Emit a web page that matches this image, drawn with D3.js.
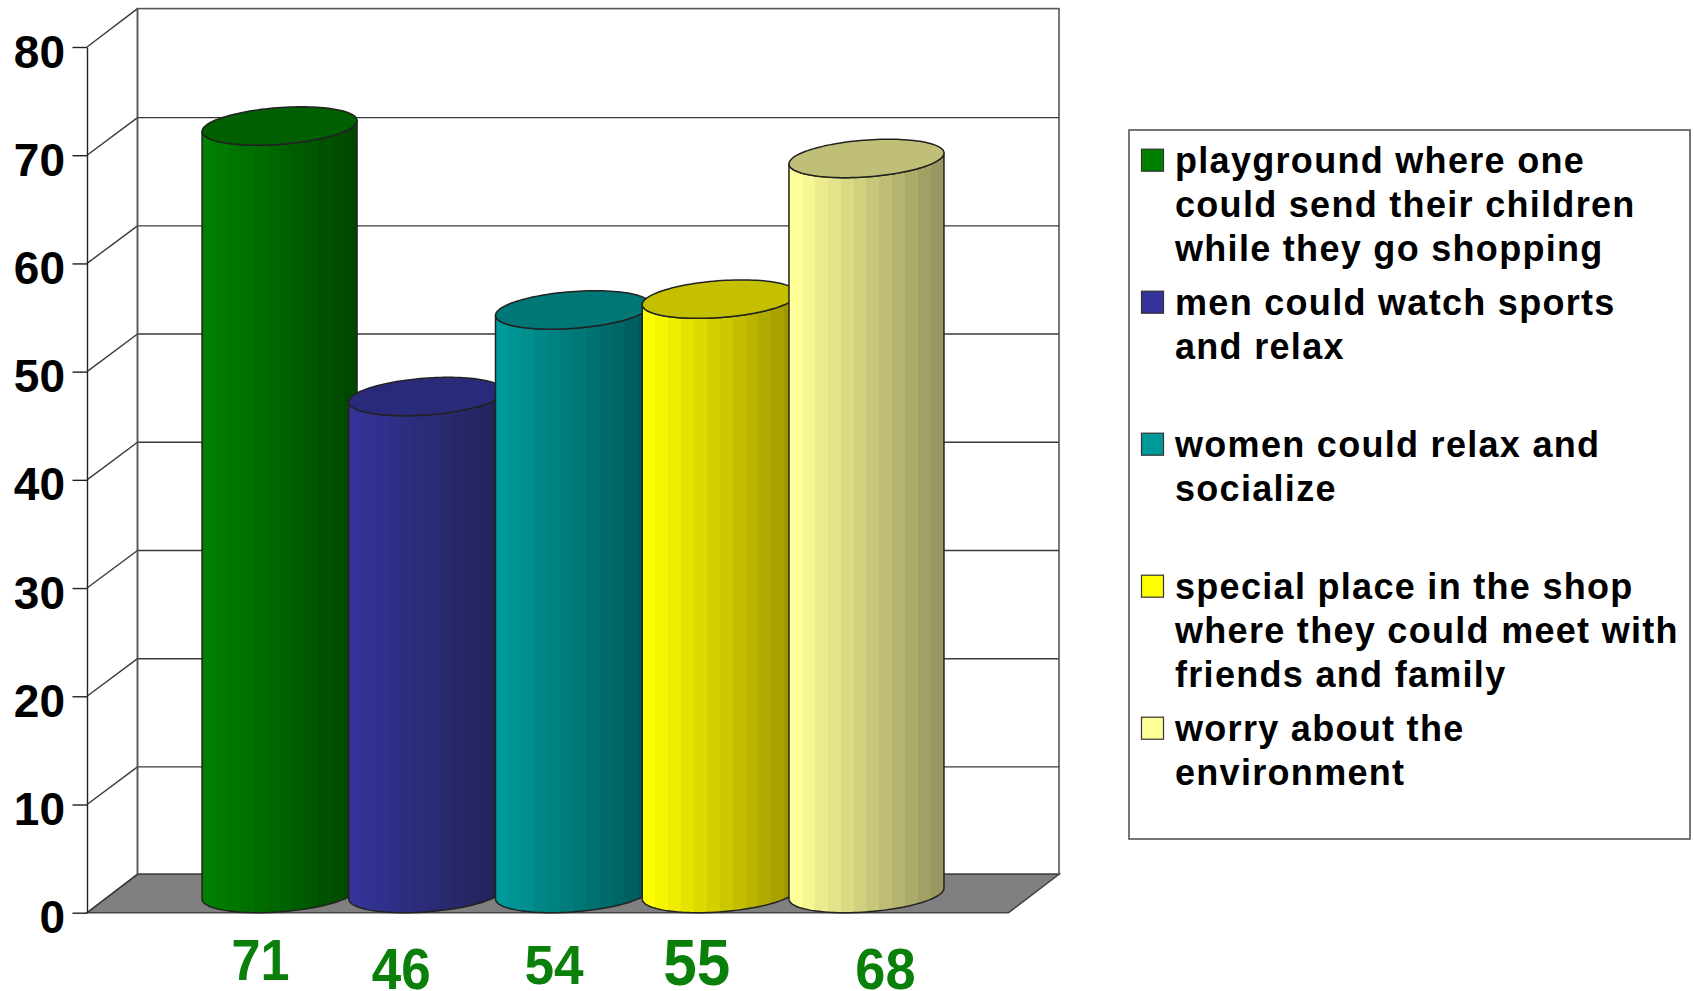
<!DOCTYPE html>
<html><head><meta charset="utf-8">
<script src="https://cdn.jsdelivr.net/npm/d3@7/dist/d3.min.js"></script>
<style>
html,body{margin:0;padding:0;background:#fff;overflow:hidden}
svg{display:block}
text{font-family:"Liberation Sans",Arial,sans-serif;font-weight:700}
</style></head><body>
<svg id="c" width="1694" height="991"></svg>
<script>
// ---- data ----
const categories = [
  "playground where one could send their children while they go shopping",
  "men could watch sports and relax",
  "women could relax and socialize",
  "special place in the shop where they could meet with friends and family",
  "worry about the environment"
];
const values = [71, 46, 54, 55, 68];
const tickValues = [0, 10, 20, 30, 40, 50, 60, 70, 80];
const legendLines = [
  ["playground where one", "could send their children", "while they go shopping"],
  ["men could watch sports", "and relax"],
  ["women could relax and", "socialize"],
  ["special place in the shop", "where they could meet with", "friends and family"],
  ["worry about the", "environment"]
];
// ---- styles ----
const sideLight = ["#008000", "#333399", "#009999", "#ffff00", "#ffff99"];
const sideDark  = ["#004800", "#232358", "#005a5a", "#a09800", "#989860"];
const capFill   = ["#005f00", "#2a2a7a", "#007777", "#c4c000", "#bfbf78"];
const swatchFill= ["#008000", "#333399", "#009999", "#ffff00", "#ffff99"];
const valueLabelLayout = [
  {dx:-19, base:980, size:58, sx:.90},
  {dx:-25, base:989, size:57, sx:.93},
  {dx:-19, base:984, size:56, sx:.95},
  {dx:-23, base:985, size:64, sx:.94},
  {dx: 19, base:989, size:57, sx:.95}
];

const frontLeft = 87, frontRight = 1008.5, depthX = 50.5, depthY = 38.4;
const y = d3.scaleLinear().domain([0, 80]).range([912.7, 47]);
const x = d3.scalePoint().domain(categories).range([frontLeft, frontRight]).padding(1.14);
const svg = d3.select("#c");
const defs = svg.append("defs");
const wall = "#555";

// back wall + left wall
svg.append("rect").attr("x", frontLeft + depthX).attr("y", y(80) - depthY)
  .attr("width", frontRight - frontLeft).attr("height", y(0) - y(80))
  .attr("fill", "#fff").attr("stroke", wall).attr("stroke-width", 1.6);
// floor
svg.append("polygon").attr("fill", "#808080").attr("stroke", "#444").attr("stroke-width", 1.5)
  .attr("points", [[frontLeft, y(0)], [frontRight, y(0)], [frontRight + depthX, y(0) - depthY], [frontLeft + depthX, y(0) - depthY]].join(" "));
// grid
const grid = svg.append("g").attr("fill", "none").attr("stroke", "#3a3a3a").attr("stroke-width", 1.4);
tickValues.forEach(t => {
  if (t > 0 && t < 80) grid.append("line")
    .attr("x1", frontLeft + depthX).attr("x2", frontRight + depthX)
    .attr("y1", y(t) - depthY + 0.8).attr("y2", y(t) - depthY + 0.8);
  grid.append("line").attr("x1", frontLeft).attr("x2", frontLeft + depthX)
    .attr("y1", y(t)).attr("y2", y(t) - depthY + (t > 0 && t < 80 ? 0.8 : 0));
});
grid.append("line").attr("x1", frontLeft + depthX).attr("x2", frontLeft + depthX)
  .attr("y1", y(80) - depthY).attr("y2", y(0) - depthY).attr("stroke", wall);

// axis
const axis = svg.append("g").attr("transform", `translate(${frontLeft},0)`)
  .call(d3.axisLeft(y).tickValues(tickValues).tickSize(14.5).tickSizeOuter(0).tickPadding(7.5).tickFormat(d3.format("d")));
axis.selectAll("line,path").attr("stroke", "#222").attr("stroke-width", 1.4);
axis.selectAll("text").attr("font-size", 46).attr("fill", "#000").attr("font-family", null)
  .attr("dy", null).attr("y", 20);

// bars
const halfW = 77.5, capB = 22, capC = depthY / 2;
const capA = Math.sqrt(halfW * halfW - capB * capB);
const t0 = Math.atan2(capB, capA);
const pt = (cx, cy, t) => [cx + capA * Math.cos(t) + capB * Math.sin(t), cy - capC * Math.sin(t)];
const frontArc = (cx, cy) => d3.range(0, 61).map(i => pt(cx, cy, t0 - Math.PI * i / 60));
const line = d3.line();
const centerShift = depthX / 2;

const bars = svg.append("g");
categories.forEach((c, i) => {
  const cx = x(c) + centerShift, topY = y(values[i]) - capC + 0.8, baseY = y(0) - capC;
  const id = "g" + i, n = 12;
  const grad = defs.append("linearGradient").attr("id", id).attr("x1", 0).attr("x2", 1).attr("y1", 0).attr("y2", 0);
  const mix = d3.interpolateRgb(sideLight[i], sideDark[i]);
  d3.range(n).forEach(k => {
    const col = mix(k / (n - 1));
    grad.append("stop").attr("offset", k / n).attr("stop-color", col);
    grad.append("stop").attr("offset", (k + 1) / n).attr("stop-color", col);
  });
  const bottom = frontArc(cx, baseY);
  const top = frontArc(cx, topY).reverse();
  const side = bottom.concat(top);
  bars.append("path").attr("d", line(side) + "Z").attr("fill", `url(#${id})`)
    .attr("stroke", "#222").attr("stroke-width", 1.5).attr("stroke-linejoin", "round");
  const ring = d3.range(0, 121).map(k => pt(cx, topY, Math.PI * 2 * k / 120));
  bars.append("path").attr("d", line(ring) + "Z").attr("fill", capFill[i])
    .attr("stroke", "#222").attr("stroke-width", 1.5);
});

// value labels below the bars
categories.forEach((c, i) => {
  const l = valueLabelLayout[i];
  svg.append("text").text(values[i])
    .attr("transform", `translate(${x(c) + centerShift + l.dx},${l.base}) scale(${l.sx},1)`)
    .attr("text-anchor", "middle").attr("font-size", l.size).attr("fill", "#0a800a");
});

// legend
svg.append("rect").attr("x", 1129).attr("y", 130).attr("width", 561).attr("height", 709)
  .attr("fill", "#fff").attr("stroke", wall).attr("stroke-width", 1.6);
const legendBase = d3.scaleLinear().domain([0, 4]).range([172.7, 740.7]);
legendLines.forEach((lines, i) => {
  const b = legendBase(i);
  svg.append("rect").attr("x", 1141.5).attr("y", b - 23.5).attr("width", 22).attr("height", 22)
    .attr("fill", swatchFill[i]).attr("stroke", "#333").attr("stroke-width", 1.2);
  lines.forEach((s, k) => {
    svg.append("text").text(s).attr("x", 1175).attr("y", b + k * 44)
      .attr("font-size", 36).attr("letter-spacing", 1.3).attr("fill", "#000");
  });
});
</script>
</body></html>
